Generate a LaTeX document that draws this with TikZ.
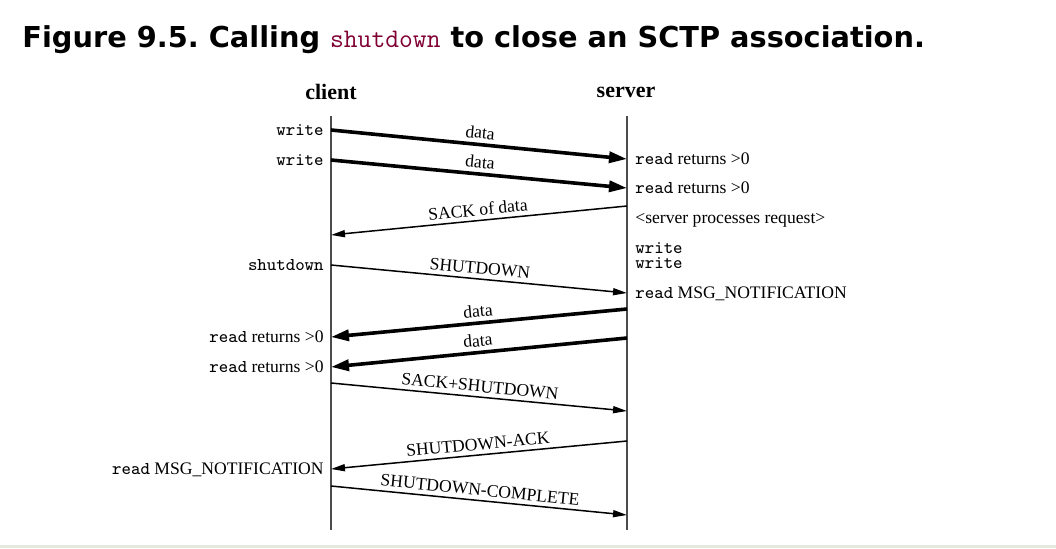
\documentclass[tikz,border=0pt]{standalone}
\usepackage{fontspec}
\setmainfont{Liberation Serif}
\newfontfamily\titlefont{DejaVu Sans}
\usetikzlibrary{arrows.meta}
\definecolor{titlered}{RGB}{128,0,51}
\definecolor{stripgray}{RGB}{228,232,223}
\newcommand{\callname}[1]{{\fontsize{9}{10}\selectfont\ttfamily #1}}
\frenchspacing
\tikzset{
  lifeline/.style={draw=black!70, line width=0.9pt},
  datamsg/.style={line width=1.8pt, -{Triangle[length=9pt,width=5.5pt]}},
  ctrlmsg/.style={line width=0.75pt, -{Triangle[length=7pt,width=3.5pt]}},
  msglabel/.style={sloped, above, inner sep=2pt, font=\fontsize{8.8}{10}\selectfont},
  calltxt/.style={inner sep=0pt, font=\fontsize{8.8}{10}\selectfont, text height=1.6ex, text depth=0.3ex},
  hosttxt/.style={font=\fontsize{11}{12}\selectfont\bfseries}
}

\begin{document}
\begin{tikzpicture}[x=0.5pt, y=-0.5pt]
    \useasboundingbox (0,0) rectangle (1056,548);
    \fill[stripgray] (0,545) rectangle (1056,548);
    \node[anchor=base west, inner sep=0pt] (title) at (22,47) {\fontsize{14.4}{16}\selectfont\titlefont\bfseries Figure 9.5. Calling {\color{titlered}\fontsize{13.4}{14}\selectfont\ttfamily\mdseries shutdown} to close an SCTP association.};
    \node[hosttxt] (client) at (331,92) {client};
    \node[hosttxt] (server) at (626,92) {server};
    \coordinate (ctop) at (331,116);
    \coordinate (cbot) at (331,530);
    \coordinate (stop) at (627,116);
    \coordinate (sbot) at (627,530);
    \draw[lifeline] (ctop) -- (cbot);
    \draw[lifeline] (stop) -- (sbot);
    \coordinate (c1) at (331,130);
    \coordinate (s1) at (627,159);
    \coordinate (c2) at (331,160);
    \coordinate (s2) at (627,188);
    \coordinate (s3) at (627,206);
    \coordinate (c3) at (331,235);
    \coordinate (c4) at (331,265);
    \coordinate (s4) at (627,293);
    \coordinate (s5) at (627,309);
    \coordinate (c5) at (331,337);
    \coordinate (s6) at (627,338);
    \coordinate (c6) at (331,367);
    \coordinate (c7) at (331,383);
    \coordinate (s7) at (627,411);
    \coordinate (s8) at (627,441);
    \coordinate (c8) at (331,469);
    \coordinate (c9) at (331,486);
    \coordinate (s9) at (627,515);
    \draw[datamsg] (c1) -- (s1) node[msglabel, midway] {data};
    \draw[datamsg] (c2) -- (s2) node[msglabel, midway] {data};
    \draw[ctrlmsg] (s3) -- (c3) node[msglabel, midway] {SACK of data};
    \draw[ctrlmsg] (c4) -- (s4) node[msglabel, midway] {SHUTDOWN};
    \draw[datamsg] (s5) -- (c5) node[msglabel, midway] {data};
    \draw[datamsg] (s6) -- (c6) node[msglabel, midway] {data};
    \draw[ctrlmsg] (c7) -- (s7) node[msglabel, midway] {SACK+SHUTDOWN};
    \draw[ctrlmsg] (s8) -- (c8) node[msglabel, midway] {SHUTDOWN-ACK};
    \draw[ctrlmsg] (c9) -- (s9) node[msglabel, midway] {SHUTDOWN-COMPLETE};
    \node[calltxt, anchor=east] (cw1) at (324,130) {\callname{write}};
    \node[calltxt, anchor=east] (cw2) at (324,160) {\callname{write}};
    \node[calltxt, anchor=east] (csd) at (324,265) {\callname{shutdown}};
    \node[calltxt, anchor=east] (cr1) at (324,337) {\callname{read} returns >0};
    \node[calltxt, anchor=east] (cr2) at (324,367) {\callname{read} returns >0};
    \node[calltxt, anchor=east] (cmn) at (324,469) {\callname{read} MSG\_NOTIFICATION};
    \node[calltxt, anchor=west] (sr1) at (635,159) {\callname{read} returns >0};
    \node[calltxt, anchor=west] (sr2) at (635,188) {\callname{read} returns >0};
    \node[calltxt, anchor=west] (spr) at (635,218) {<server processes request>};
    \node[calltxt, anchor=west] (sw1) at (635,248) {\callname{write}};
    \node[calltxt, anchor=west] (sw2) at (635,263) {\callname{write}};
    \node[calltxt, anchor=west] (smn) at (635,293) {\callname{read} MSG\_NOTIFICATION};
\end{tikzpicture}
\end{document}
